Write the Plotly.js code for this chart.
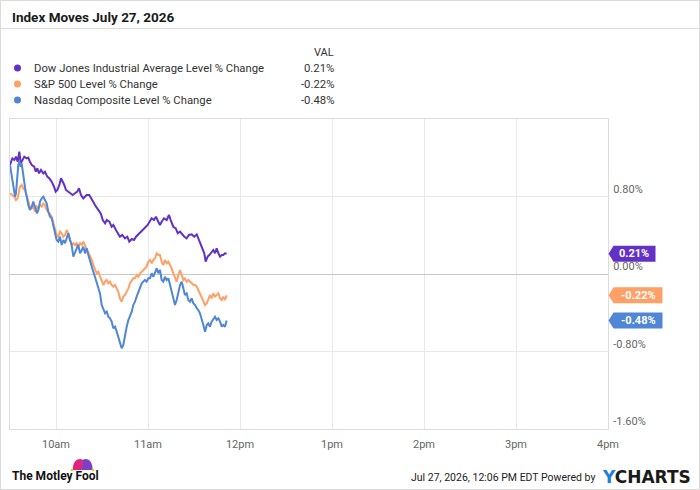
<!DOCTYPE html>
<html>
<head>
<meta charset="utf-8">
<script src="https://cdn.plot.ly/plotly-3.0.1.min.js"></script>
<style>
  html, body { margin: 0; padding: 0; background: #fff; }
  #wrap { position: relative; width: 700px; height: 490px; }
  #chart { width: 700px; height: 490px; }
  #frame { position: absolute; left: 0; top: 0; width: 698px; height: 488px; border: 1px solid #dcdcdc; pointer-events: none; }
</style>
</head>
<body>
<div id="wrap"><div id="chart"></div><div id="frame"></div></div>
<script>
// ---- Data (minutes after 9:30 ET, % change) ----
const seriesNames = ["Dow Jones Industrial Average Level % Change", "S&P 500 Level % Change", "Nasdaq Composite Level % Change"];
const lastValues = [0.21, -0.22, -0.48];
const lastLabels = ["0.21%", "-0.22%", "-0.48%"];

const dowMin = [0,1.5,2.8,3.9,5.0,6.1,7.0,8.0,9.3,10.9,11.9,13.0,14.2,15.8,16.8,17.8,18.9,20.2,21.7,22.8,24.3,25.6,27.2,28.7,29.8,30.9,32.2,33.3,34.4,35.4,36.5,38.0,39.6,40.9,42.4,43.9,45.0,46.3,47.8,48.9,
  50.0,51.7,53.3,54.8,56.1,57.6,59.2,60.5,62.0,63.1,64.8,66.3,67.4,69.1,70.6,71.7,73.2,75.0,76.5,77.8,79.4,80.9,82.2,83.7,85.2,86.9,88.5,89.8,91.3,92.4,93.9,
  95.2,96.7,97.8,98.9,100.4,102.2,103.7,104.8,106.5,108.1,109.4,110.9,112.4,113.7,115.2,116.7,118.5,120.2,121.8,122.8,123.9,125.4,126.7,127.6,128.9,130.0,131.1,132.6,133.7,134.8,135.9,137.0,138.1,139.1,140.2,141.3];
const dowVal = [1.125,1.194,1.177,1.211,1.159,1.262,1.142,1.177,1.211,1.194,1.201,1.159,1.125,1.108,1.056,1.091,1.039,1.074,1.039,1.056,1.005,0.988,0.953,0.901,0.850,0.867,0.919,0.988,0.953,0.919,0.867,0.850,0.833,0.815,0.833,0.850,0.885,0.815,0.781,0.798,
  0.815,0.815,0.764,0.730,0.695,0.661,0.626,0.557,0.523,0.557,0.540,0.488,0.506,0.454,0.420,0.385,0.403,0.368,0.385,0.333,0.361,0.351,0.385,0.409,0.430,0.454,0.488,0.506,0.547,0.575,0.557,
  0.592,0.540,0.506,0.540,0.575,0.557,0.609,0.557,0.488,0.471,0.420,0.437,0.403,0.385,0.368,0.403,0.409,0.385,0.409,0.368,0.317,0.265,0.214,0.127,0.179,0.196,0.214,0.248,0.214,0.265,0.214,0.179,0.196,0.196,0.214,0.21];

const spMin = [0,1.5,2.8,3.9,5.0,5.9,6.5,7.6,8.7,9.8,10.9,11.9,13.0,14.2,15.2,16.3,17.4,18.5,19.6,20.7,21.7,22.8,23.9,25.0,26.1,27.2,28.3,29.3,30.4,31.5,32.6,33.7,34.8,35.9,37.0,38.0,39.1,40.2,41.3,42.4,43.5,44.5,45.7,46.8,47.8,48.9,
  50.0,51.1,52.2,53.3,54.3,55.4,56.5,57.6,58.7,59.8,60.9,62.0,63.1,64.1,65.2,66.3,67.4,68.5,69.6,70.6,71.7,72.8,73.9,75.0,76.1,77.2,78.3,79.4,80.4,81.5,82.6,83.7,84.8,85.9,86.9,88.0,89.1,90.2,91.3,92.4,93.5,94.6,95.7,96.7,97.8,
  98.9,100.0,101.1,102.2,103.3,104.4,105.4,106.5,107.6,108.7,109.8,110.9,112.0,113.0,114.1,115.2,116.3,117.4,118.5,119.6,120.7,121.8,122.8,123.9,125.0,126.1,127.2,128.3,129.3,130.4,131.5,132.6,133.7,134.8,135.9,137.0,138.1,139.1,140.2,141.3];
const spVal = [0.833,0.815,0.798,0.764,0.781,0.850,0.901,0.919,0.884,0.867,0.815,0.764,0.695,0.678,0.695,0.643,0.695,0.678,0.712,0.695,0.729,0.712,0.661,0.643,0.609,0.592,0.523,0.454,0.403,0.385,0.437,0.420,0.385,0.403,0.454,0.420,0.368,0.299,0.317,0.299,0.317,0.282,0.317,0.299,0.334,0.299,
  0.248,0.213,0.179,0.145,0.093,0.041,0.007,0.024,-0.028,-0.079,-0.114,-0.079,-0.062,-0.096,-0.079,-0.114,-0.131,-0.114,-0.148,-0.182,-0.251,-0.286,-0.234,-0.217,-0.182,-0.148,-0.096,-0.062,-0.045,-0.045,-0.010,-0.028,0.007,0.024,0.041,0.058,0.076,0.127,0.145,0.110,0.145,0.162,0.213,0.196,0.196,
  0.127,0.093,0.145,0.110,0.127,0.093,0.058,0.007,-0.028,-0.079,-0.010,0.041,-0.010,-0.062,-0.045,-0.079,-0.062,-0.079,-0.096,-0.114,-0.114,-0.131,-0.165,-0.200,-0.234,-0.268,-0.320,-0.303,-0.268,-0.217,-0.251,-0.200,-0.234,-0.217,-0.200,-0.251,-0.268,-0.234,-0.268,-0.22];

const ndxMin = [0,1.5,2.6,3.3,3.9,4.6,5.4,6.1,7.0,7.6,8.3,9.1,10.2,11.1,11.9,13.0,14.2,15.2,15.9,16.8,17.6,18.5,19.6,20.7,21.7,22.8,23.9,25.0,26.1,27.2,28.3,29.3,30.4,31.5,32.6,33.7,34.8,35.9,37.0,38.0,39.1,40.2,41.3,42.4,43.5,44.5,45.7,46.8,47.8,48.9,
  50.0,51.1,52.2,53.3,54.3,55.4,56.5,57.6,58.7,59.8,60.9,62.0,63.1,64.1,65.2,66.3,67.4,68.5,69.6,70.6,71.7,72.8,73.9,75.0,76.1,77.2,78.3,79.4,80.4,81.5,82.6,83.7,84.8,85.9,86.9,88.0,89.1,90.2,91.3,92.4,93.5,94.6,95.7,96.7,97.8,
  98.9,100.0,101.1,102.2,103.3,104.4,105.4,106.5,107.6,108.7,109.8,110.9,112.0,113.0,114.1,115.2,116.3,117.4,118.5,119.6,120.7,121.8,122.8,123.9,125.0,126.1,127.2,128.3,129.3,130.4,131.5,132.6,133.7,134.8,135.9,137.0,138.1,139.1,140.2,141.3];
const ndxVal = [1.125,0.988,0.884,0.798,0.833,0.953,1.125,1.160,1.108,1.142,1.056,0.953,0.850,0.781,0.712,0.661,0.695,0.747,0.712,0.643,0.626,0.661,0.747,0.781,0.798,0.764,0.729,0.643,0.592,0.575,0.506,0.437,0.351,0.334,0.385,0.299,0.351,0.317,0.385,0.420,0.351,0.299,0.179,0.231,0.265,0.299,0.213,0.248,0.282,0.213,
  0.265,0.196,0.127,0.076,0.024,-0.028,-0.079,-0.131,-0.200,-0.320,-0.372,-0.406,-0.389,-0.440,-0.458,-0.492,-0.561,-0.544,-0.595,-0.647,-0.716,-0.767,-0.733,-0.630,-0.544,-0.475,-0.440,-0.389,-0.320,-0.286,-0.234,-0.182,-0.148,-0.096,-0.079,-0.062,-0.079,-0.045,-0.045,0.007,-0.028,0.024,0.058,0.007,0.041,
  -0.062,-0.079,-0.028,-0.062,-0.045,-0.114,-0.165,-0.234,-0.320,-0.268,-0.182,-0.114,-0.079,-0.148,-0.217,-0.200,-0.268,-0.286,-0.251,-0.303,-0.320,-0.354,-0.372,-0.406,-0.458,-0.526,-0.595,-0.526,-0.509,-0.544,-0.492,-0.458,-0.440,-0.475,-0.458,-0.492,-0.544,-0.526,-0.544,-0.48];

const xTickVals = ["2026-07-27 10:00","2026-07-27 11:00","2026-07-27 12:00","2026-07-27 13:00","2026-07-27 14:00","2026-07-27 15:00","2026-07-27 16:00"];
const xTickText = ["10am","11am","12pm","1pm","2pm","3pm","4pm"];
const yTickVals = [-1.6, -0.8, 0, 0.8];
const yTickText = ["-1.60%","-0.80%","0.00%","0.80%"];

// ---- Styling ----
const colors = ["#6331c6", "#ffa066", "#4f86d6"];
const FONT = "Roboto, 'Open Sans', sans-serif";

function pad(n){ return (n < 10 ? "0" : "") + n; }
function ts(m){
  const total = 9*3600 + 30*60 + Math.round(m*60);
  return "2026-07-27 " + pad(Math.floor(total/3600)) + ":" + pad(Math.floor((total%3600)/60)) + ":" + pad(total%60);
}

// geometry helpers (pixel -> paper)
const W = 700, H = 490, ML = 10, MR = 92, MT = 119, MB = 61;
const PW = W - ML - MR, PH = H - MT - MB;
const px = x => (x - ML) / PW;
const py = y => (H - MB - y) / PH;
const yPerPx = 3.2 / PH;

const mins = [dowMin, spMin, ndxMin];
const vals = [dowVal, spVal, ndxVal];
const traces = seriesNames.map((n, i) => ({
  type: "scatter", mode: "lines", name: n,
  x: mins[i].map(ts), y: vals[i],
  line: { color: colors[i], width: 2 },
  hoverinfo: "skip", showlegend: false
}));

const shapes = [];
const annotations = [];

// title + rule
annotations.push({ xref: "paper", yref: "paper", x: px(10), y: py(17), xanchor: "left", yanchor: "middle",
  text: "<b>Index Moves July 27, 2026</b>", showarrow: false, font: { family: FONT, size: 13.5, color: "#1a1a1a" } });
shapes.push({ type: "line", xref: "paper", yref: "paper", x0: px(0), x1: px(700), y0: py(28.5), y1: py(28.5), line: { color: "#dcdcdc", width: 1 } });

// legend
annotations.push({ xref: "paper", yref: "paper", x: px(336), y: py(52), xanchor: "right", yanchor: "middle",
  text: "VAL", showarrow: false, font: { family: FONT, size: 11, color: "#333" } });
const legY = [68, 84, 100];
seriesNames.forEach((n, i) => {
  shapes.push({ type: "circle", xref: "paper", yref: "paper", x0: px(14), x1: px(21), y0: py(legY[i] + 3.5), y1: py(legY[i] - 3.5),
    fillcolor: colors[i], line: { width: 0 } });
  annotations.push({ xref: "paper", yref: "paper", x: px(32), y: py(legY[i]), xanchor: "left", yanchor: "middle",
    text: n, showarrow: false, font: { family: FONT, size: 11.3, color: "#333" } });
  annotations.push({ xref: "paper", yref: "paper", x: px(336), y: py(legY[i]), xanchor: "right", yanchor: "middle",
    text: lastLabels[i], showarrow: false, font: { family: FONT, size: 11.3, color: "#333" } });
});

// end-value flags on the right axis
const flagW = [42, 49, 49];
seriesNames.forEach((n, i) => {
  const v = lastValues[i];
  const h = 8 * yPerPx;
  const xt = px(608.5), xb = px(613.5), xe = px(613.5 + flagW[i]);
  shapes.push({ type: "path", xref: "paper", yref: "y",
    path: `M ${xt} ${v} L ${xb} ${v + h} L ${xe} ${v + h} L ${xe} ${v - h} L ${xb} ${v - h} Z`,
    fillcolor: colors[i], line: { width: 0 } });
  annotations.push({ xref: "paper", yref: "y", x: (xb + xe) / 2, y: v, xanchor: "center", yanchor: "middle",
    text: "<b>" + lastLabels[i] + "</b>", showarrow: false, font: { family: FONT, size: 11, color: "#fff" } });
});

// footer
annotations.push({ xref: "paper", yref: "paper", x: px(10), y: py(476), xanchor: "left", yanchor: "middle",
  text: "<b>The Motley Fool</b>", showarrow: false, font: { family: FONT, size: 12, color: "#111" } });
shapes.push({ type: "path", xref: "paper", yref: "paper",
  path: `M ${px(73)} ${py(470)} C ${px(72)} ${py(462)} ${px(78)} ${py(457)} ${px(83)} ${py(460)} L ${px(82.5)} ${py(470)} Z`,
  fillcolor: "#e3247c", line: { width: 0 } });
shapes.push({ type: "path", xref: "paper", yref: "paper",
  path: `M ${px(82)} ${py(470)} L ${px(82.5)} ${py(460)} C ${px(88)} ${py(457)} ${px(93)} ${py(462)} ${px(92.5)} ${py(470)} Z`,
  fillcolor: "#7c3fc6", line: { width: 0 } });
[[72, 470], [93, 470]].forEach(p => shapes.push({ type: "circle", xref: "paper", yref: "paper",
  x0: px(p[0] - 1.3), x1: px(p[0] + 1.3), y0: py(p[1] + 1.3), y1: py(p[1] - 1.3), fillcolor: "#f5c400", line: { width: 0 } }));

annotations.push({ xref: "paper", yref: "paper", x: px(597), y: py(478), xanchor: "right", yanchor: "middle",
  text: "Jul 27, 2026, 12:06 PM EDT Powered by", showarrow: false, font: { family: FONT, size: 10.5, color: "#222" } });
annotations.push({ xref: "paper", yref: "paper", x: px(600), y: py(477), xanchor: "left", yanchor: "middle",
  text: "<b><span style='color:#1b7fe0'>Y</span>CHARTS</b>", showarrow: false, font: { family: "'DejaVu Sans', sans-serif", size: 17, color: "#1a1a1a" } });

const layout = {
  width: W, height: H,
  margin: { l: ML, r: MR, t: MT, b: MB, pad: 0 },
  paper_bgcolor: "#fff", plot_bgcolor: "#fff",
  font: { family: FONT, size: 11, color: "#666" },
  showlegend: false,
  xaxis: {
    type: "date", range: ["2026-07-27 09:30", "2026-07-27 16:00"],
    tickmode: "array", tickvals: xTickVals, ticktext: xTickText,
    showgrid: true, gridcolor: "#e8e8e8", gridwidth: 1,
    showline: true, linecolor: "#dcdcdc", linewidth: 1, mirror: true,
    ticks: "", ticklabelstandoff: 5,
    tickfont: { family: FONT, size: 11, color: "#666" },
    zeroline: false, fixedrange: true
  },
  yaxis: {
    side: "right", range: [-1.6, 1.6],
    tickmode: "array", tickvals: yTickVals, ticktext: yTickText,
    ticklabelposition: "outside top",
    showgrid: true, gridcolor: "#e8e8e8", gridwidth: 1,
    zeroline: true, zerolinecolor: "#c8c8c8", zerolinewidth: 1,
    showline: true, linecolor: "#dcdcdc", linewidth: 1, mirror: true,
    ticks: "", ticklabelstandoff: 2,
    tickfont: { family: FONT, size: 11, color: "#666" },
    fixedrange: true
  },
  shapes: shapes,
  annotations: annotations
};

Plotly.newPlot("chart", traces, layout, { displayModeBar: false, staticPlot: true });
</script>
</body>
</html>
